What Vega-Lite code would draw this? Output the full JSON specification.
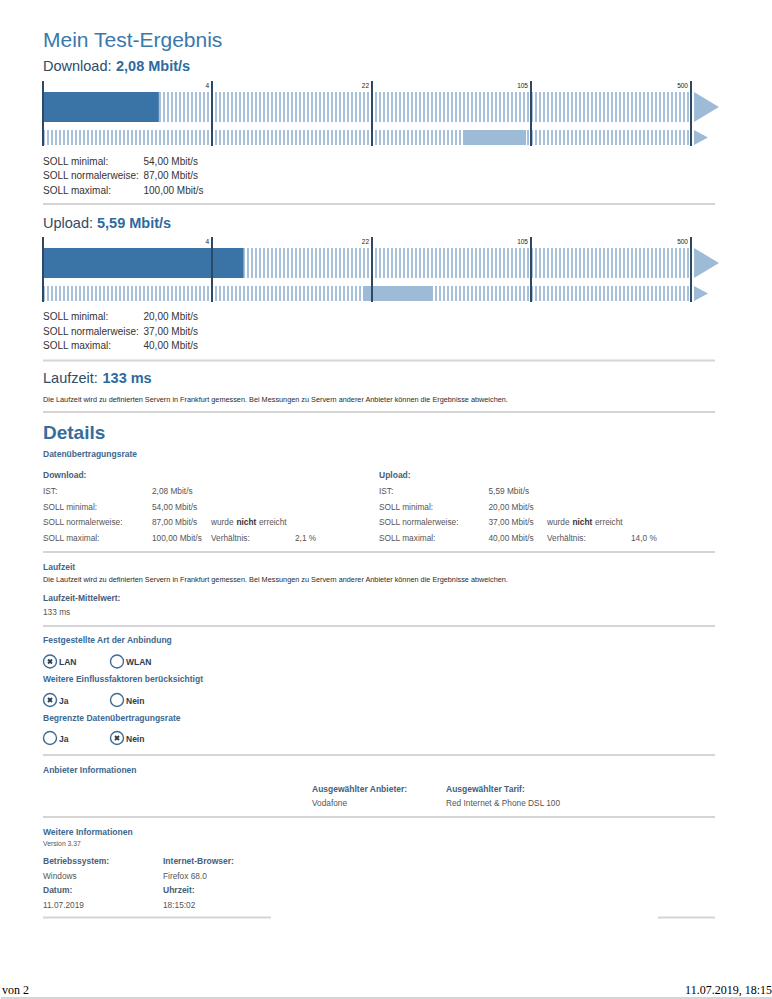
{
  "$schema": "https://vega.github.io/schema/vega-lite/v6.json",
  "width": 772,
  "height": 999,
  "autosize": {"type": "fit", "contains": "padding"},
  "padding": 0,
  "background": "#ffffff",
  "config": {
    "view": {"stroke": null},
    "font": "Liberation Sans",
    "text": {"font": "Liberation Sans"}
  },
  "datasets": {
    "texts": [
      {"t": "Mein Test-Ergebnis", "x": 42, "y": 47, "k": "title"},
      {"t": "Download:", "x": 42, "y": 71, "k": "h2"},
      {"t": "2,08 Mbit/s", "x": 115, "y": 71, "k": "h2b"},
      {"t": "SOLL minimal:", "x": 42, "y": 164.5, "k": "body"},
      {"t": "54,00 Mbit/s", "x": 142.5, "y": 164.5, "k": "body"},
      {"t": "SOLL normalerweise:", "x": 42, "y": 179, "k": "body"},
      {"t": "87,00 Mbit/s", "x": 142.5, "y": 179, "k": "body"},
      {"t": "SOLL maximal:", "x": 42, "y": 193.5, "k": "body"},
      {"t": "100,00 Mbit/s", "x": 142.5, "y": 193.5, "k": "body"},
      {"t": "Upload:", "x": 42, "y": 228, "k": "h2"},
      {"t": "5,59 Mbit/s", "x": 96, "y": 228, "k": "h2b"},
      {"t": "SOLL minimal:", "x": 42, "y": 320, "k": "body"},
      {"t": "20,00 Mbit/s", "x": 142.5, "y": 320, "k": "body"},
      {"t": "SOLL normalerweise:", "x": 42, "y": 334.5, "k": "body"},
      {"t": "37,00 Mbit/s", "x": 142.5, "y": 334.5, "k": "body"},
      {"t": "SOLL maximal:", "x": 42, "y": 349, "k": "body"},
      {"t": "40,00 Mbit/s", "x": 142.5, "y": 349, "k": "body"},
      {"t": "Laufzeit:", "x": 42, "y": 383, "k": "h2"},
      {"t": "133 ms", "x": 101.5, "y": 383, "k": "h2b"},
      {"t": "Die Laufzeit wird zu definierten Servern in Frankfurt gemessen. Bei Messungen zu Servern anderer Anbieter können die Ergebnisse abweichen.", "x": 42, "y": 401.5, "k": "tiny"},
      {"t": "Details", "x": 42, "y": 438.5, "k": "details"},
      {"t": "Datenübertragungsrate", "x": 42, "y": 457, "k": "sec"},
      {"t": "Download:", "x": 42, "y": 477.5, "k": "lbl"},
      {"t": "Upload:", "x": 378, "y": 477.5, "k": "lbl"},
      {"t": "IST:", "x": 42, "y": 494, "k": "det"},
      {"t": "2,08 Mbit/s", "x": 151, "y": 494, "k": "det"},
      {"t": "SOLL minimal:", "x": 42, "y": 509.5, "k": "det"},
      {"t": "54,00 Mbit/s", "x": 151, "y": 509.5, "k": "det"},
      {"t": "SOLL normalerweise:", "x": 42, "y": 525, "k": "det"},
      {"t": "87,00 Mbit/s", "x": 151, "y": 525, "k": "det"},
      {"t": "wurde", "x": 210, "y": 525, "k": "det"},
      {"t": "nicht", "x": 235.5, "y": 525, "k": "detb"},
      {"t": "erreicht", "x": 258, "y": 525, "k": "det"},
      {"t": "SOLL maximal:", "x": 42, "y": 540.5, "k": "det"},
      {"t": "100,00 Mbit/s", "x": 151, "y": 540.5, "k": "det"},
      {"t": "Verhältnis:", "x": 210, "y": 540.5, "k": "det"},
      {"t": "2,1 %", "x": 294, "y": 540.5, "k": "det"},
      {"t": "IST:", "x": 378, "y": 494, "k": "det"},
      {"t": "5,59 Mbit/s", "x": 487.5, "y": 494, "k": "det"},
      {"t": "SOLL minimal:", "x": 378, "y": 509.5, "k": "det"},
      {"t": "20,00 Mbit/s", "x": 487.5, "y": 509.5, "k": "det"},
      {"t": "SOLL normalerweise:", "x": 378, "y": 525, "k": "det"},
      {"t": "37,00 Mbit/s", "x": 487.5, "y": 525, "k": "det"},
      {"t": "wurde", "x": 546, "y": 525, "k": "det"},
      {"t": "nicht", "x": 571.5, "y": 525, "k": "detb"},
      {"t": "erreicht", "x": 594, "y": 525, "k": "det"},
      {"t": "SOLL maximal:", "x": 378, "y": 540.5, "k": "det"},
      {"t": "40,00 Mbit/s", "x": 487.5, "y": 540.5, "k": "det"},
      {"t": "Verhältnis:", "x": 546, "y": 540.5, "k": "det"},
      {"t": "14,0 %", "x": 630, "y": 540.5, "k": "det"},
      {"t": "Laufzeit", "x": 42, "y": 570, "k": "sec"},
      {"t": "Die Laufzeit wird zu definierten Servern in Frankfurt gemessen. Bei Messungen zu Servern anderer Anbieter können die Ergebnisse abweichen.", "x": 42, "y": 581.5, "k": "tiny"},
      {"t": "Laufzeit-Mittelwert:", "x": 42, "y": 601, "k": "lbl"},
      {"t": "133 ms", "x": 42, "y": 615, "k": "det"},
      {"t": "Festgestellte Art der Anbindung", "x": 42, "y": 643, "k": "sec"},
      {"t": "LAN", "x": 58, "y": 665, "k": "radio"},
      {"t": "WLAN", "x": 125, "y": 665, "k": "radio"},
      {"t": "Weitere Einflussfaktoren berücksichtigt", "x": 42, "y": 681.5, "k": "sec"},
      {"t": "Ja", "x": 58, "y": 703.5, "k": "radio"},
      {"t": "Nein", "x": 125, "y": 703.5, "k": "radio"},
      {"t": "Begrenzte Datenübertragungsrate", "x": 42, "y": 720.5, "k": "sec"},
      {"t": "Ja", "x": 58, "y": 741.5, "k": "radio"},
      {"t": "Nein", "x": 125, "y": 741.5, "k": "radio"},
      {"t": "Anbieter Informationen", "x": 42, "y": 772.5, "k": "sec"},
      {"t": "Ausgewählter Anbieter:", "x": 311, "y": 791.5, "k": "lbl"},
      {"t": "Ausgewählter Tarif:", "x": 445, "y": 791.5, "k": "lbl"},
      {"t": "Vodafone", "x": 311, "y": 805.5, "k": "det"},
      {"t": "Red Internet & Phone DSL 100", "x": 445, "y": 805.5, "k": "det"},
      {"t": "Weitere Informationen", "x": 42, "y": 834.5, "k": "sec"},
      {"t": "Version 3.37", "x": 42, "y": 846, "k": "ver"},
      {"t": "Betriebssystem:", "x": 42, "y": 863.5, "k": "lbl"},
      {"t": "Internet-Browser:", "x": 162, "y": 863.5, "k": "lbl"},
      {"t": "Windows", "x": 42, "y": 878.5, "k": "det"},
      {"t": "Firefox 68.0", "x": 162, "y": 878.5, "k": "det"},
      {"t": "Datum:", "x": 42, "y": 892.5, "k": "lbl"},
      {"t": "Uhrzeit:", "x": 162, "y": 892.5, "k": "lbl"},
      {"t": "11.07.2019", "x": 42, "y": 907.5, "k": "det"},
      {"t": "18:15:02", "x": 162, "y": 907.5, "k": "det"},
      {"t": "von 2", "x": 1, "y": 994, "k": "footL"},
      {"t": "11.07.2019, 18:15", "x": 771, "y": 994, "k": "footR"}
    ],
    "rules": [
      {"x": 42, "x2": 714, "y": 204},
      {"x": 42, "x2": 714, "y": 360.5},
      {"x": 42, "x2": 714, "y": 412},
      {"x": 42, "x2": 714, "y": 552},
      {"x": 42, "x2": 714, "y": 626},
      {"x": 42, "x2": 714, "y": 755},
      {"x": 42, "x2": 714, "y": 817},
      {"x": 42, "x2": 270, "y": 917.5},
      {"x": 657, "x2": 714, "y": 917.5},
      {"x": 0, "x2": 772, "y": 998}
    ],
    "radios": [
      {"x": 49, "y": 661.5, "checked": true},
      {"x": 116, "y": 661.5, "checked": false},
      {"x": 49, "y": 700, "checked": true},
      {"x": 116, "y": 700, "checked": false},
      {"x": 49, "y": 738, "checked": false},
      {"x": 116, "y": 738, "checked": true}
    ],
    "rates": [
      {"test": "Download", "top": 81, "lo": 0.5, "hi": 500, "ist": 2.08, "min": 54, "normal": 87, "max": 100},
      {"test": "Upload", "top": 237, "lo": 0.5, "hi": 500, "ist": 5.59, "min": 20, "normal": 37, "max": 40}
    ],
    "ticks": [
      {"test": "Download", "top": 81, "v": 0.5, "label": ""},
      {"test": "Download", "top": 81, "v": 4, "label": "4"},
      {"test": "Download", "top": 81, "v": 22, "label": "22"},
      {"test": "Download", "top": 81, "v": 105, "label": "105"},
      {"test": "Download", "top": 81, "v": 500, "label": "500"},
      {"test": "Upload", "top": 237, "v": 0.5, "label": ""},
      {"test": "Upload", "top": 237, "v": 4, "label": "4"},
      {"test": "Upload", "top": 237, "v": 22, "label": "22"},
      {"test": "Upload", "top": 237, "v": 105, "label": "105"},
      {"test": "Upload", "top": 237, "v": 500, "label": "500"}
    ]
  },
  "resolve": {"scale": {"x": "independent"}, "axis": {"x": "independent"}},
  "layer": [
    {
      "encoding": {
        "x": {"field": "x", "type": "quantitative", "axis": null, "scale": {"domain": [0, 772], "range": [0, 772], "nice": false, "zero": false}},
        "y": {"field": "y", "type": "quantitative", "axis": null, "scale": {"domain": [0, 999], "range": [0, 999], "nice": false, "zero": false}}
      },
      "layer": [
        {
          "data": {"name": "rules"},
          "mark": {"type": "rule", "color": "#d5d5d5", "strokeWidth": 2},
          "encoding": {"x2": {"field": "x2"}}
        },
        {
          "data": {"name": "radios"},
          "mark": {"type": "point", "shape": "circle", "size": 169, "filled": true, "fill": "#ffffff", "stroke": "#3f6b93", "strokeWidth": 1.4, "opacity": 1}
        },
        {
          "data": {"name": "radios"},
          "transform": [{"filter": "datum.checked"}],
          "mark": {"type": "point", "shape": "M-1,-1L1,1M1,-1L-1,1", "size": 16, "filled": false, "stroke": "#2c3e50", "strokeWidth": 1.9, "opacity": 1}
        },
        {
          "data": {"name": "texts"},
          "encoding": {"text": {"field": "t", "type": "nominal"}},
          "layer": [
            {"transform": [{"filter": "datum.k === 'title'"}], "mark": {"type": "text", "align": "left", "baseline": "alphabetic", "fontSize": 21, "color": "#3a78ab"}},
            {"transform": [{"filter": "datum.k === 'h2'"}], "mark": {"type": "text", "align": "left", "baseline": "alphabetic", "fontSize": 14.5, "color": "#2f4b66"}},
            {"transform": [{"filter": "datum.k === 'h2b'"}], "mark": {"type": "text", "align": "left", "baseline": "alphabetic", "fontSize": 14.5, "fontWeight": "bold", "color": "#2e6a9c"}},
            {"transform": [{"filter": "datum.k === 'body'"}], "mark": {"type": "text", "align": "left", "baseline": "alphabetic", "fontSize": 10, "color": "#333333"}},
            {"transform": [{"filter": "datum.k === 'tiny'"}], "mark": {"type": "text", "align": "left", "baseline": "alphabetic", "fontSize": 7.3, "color": "#2b2b2b"}},
            {"transform": [{"filter": "datum.k === 'details'"}], "mark": {"type": "text", "align": "left", "baseline": "alphabetic", "fontSize": 19, "fontWeight": "bold", "color": "#376d9b"}},
            {"transform": [{"filter": "datum.k === 'sec'"}], "mark": {"type": "text", "align": "left", "baseline": "alphabetic", "fontSize": 8.5, "fontWeight": "bold", "color": "#3c6890"}},
            {"transform": [{"filter": "datum.k === 'lbl'"}], "mark": {"type": "text", "align": "left", "baseline": "alphabetic", "fontSize": 8.5, "fontWeight": "bold", "color": "#45607a"}},
            {"transform": [{"filter": "datum.k === 'det'"}], "mark": {"type": "text", "align": "left", "baseline": "alphabetic", "fontSize": 8.3, "color": "#555555"}},
            {"transform": [{"filter": "datum.k === 'detb'"}], "mark": {"type": "text", "align": "left", "baseline": "alphabetic", "fontSize": 8.3, "fontWeight": "bold", "color": "#333333"}},
            {"transform": [{"filter": "datum.k === 'radio'"}], "mark": {"type": "text", "align": "left", "baseline": "alphabetic", "fontSize": 8.5, "fontWeight": "bold", "color": "#2d3d4e"}},
            {"transform": [{"filter": "datum.k === 'ver'"}], "mark": {"type": "text", "align": "left", "baseline": "alphabetic", "fontSize": 6.8, "color": "#555555"}},
            {"transform": [{"filter": "datum.k === 'footL'"}], "mark": {"type": "text", "align": "left", "baseline": "alphabetic", "fontSize": 12, "font": "Liberation Serif", "color": "#000000"}},
            {"transform": [{"filter": "datum.k === 'footR'"}], "mark": {"type": "text", "align": "right", "baseline": "alphabetic", "fontSize": 12, "font": "Liberation Serif", "color": "#000000"}}
          ]
        }
      ]
    },
    {
      "layer": [
        {
          "data": {"name": "rates"},
          "mark": {"type": "rule", "strokeWidth": 30, "strokeDash": [2, 2], "color": "#a6c1d9", "yOffset": 26},
          "encoding": {
            "x": {"field": "lo", "type": "quantitative", "axis": null, "scale": {"type": "log", "domain": [0.5, 4, 22, 105, 500], "range": [42, 211, 371, 530, 690], "nice": false}},
            "x2": {"field": "hi"},
            "y": {"field": "top", "type": "quantitative", "axis": null}
          }
        },
        {
          "data": {"name": "rates"},
          "mark": {"type": "rule", "strokeWidth": 15, "strokeDash": [2, 2], "color": "#a6c1d9", "yOffset": 56.5},
          "encoding": {
            "x": {"field": "lo", "type": "quantitative", "axis": null},
            "x2": {"field": "hi"},
            "y": {"field": "top", "type": "quantitative", "axis": null}
          }
        },
        {
          "data": {"name": "rates"},
          "mark": {"type": "rect", "color": "#3a73a5", "yOffset": 11, "y2Offset": 41},
          "encoding": {
            "x": {"field": "lo", "type": "quantitative", "axis": null},
            "x2": {"field": "ist"},
            "y": {"field": "top", "type": "quantitative", "axis": null},
            "y2": {"field": "top"}
          }
        },
        {
          "data": {"name": "rates"},
          "mark": {"type": "rect", "color": "#9dbad6", "yOffset": 49, "y2Offset": 64},
          "encoding": {
            "x": {"field": "min", "type": "quantitative", "axis": null},
            "x2": {"field": "max"},
            "y": {"field": "top", "type": "quantitative", "axis": null},
            "y2": {"field": "top"}
          }
        },
        {
          "data": {"name": "ticks"},
          "mark": {"type": "rule", "color": "#2d4964", "strokeWidth": 2, "y2Offset": 65},
          "encoding": {
            "x": {"field": "v", "type": "quantitative", "axis": null},
            "y": {"field": "top", "type": "quantitative", "axis": null},
            "y2": {"field": "top"}
          }
        },
        {
          "data": {"name": "ticks"},
          "mark": {"type": "text", "align": "right", "baseline": "alphabetic", "fontSize": 6.5, "color": "#222222", "dx": -3, "yOffset": 6.5},
          "encoding": {
            "x": {"field": "v", "type": "quantitative", "axis": null},
            "y": {"field": "top", "type": "quantitative", "axis": null},
            "text": {"field": "label", "type": "nominal"}
          }
        },
        {
          "data": {"name": "rates"},
          "mark": {"type": "point", "shape": "M-0.83,-1L0.83,0L-0.83,1Z", "size": 900, "filled": true, "color": "#9dbad6", "opacity": 1, "strokeWidth": 0, "xOffset": 15.5, "yOffset": 26},
          "encoding": {
            "x": {"field": "hi", "type": "quantitative", "axis": null},
            "y": {"field": "top", "type": "quantitative", "axis": null}
          }
        },
        {
          "data": {"name": "rates"},
          "mark": {"type": "point", "shape": "M-0.93,-1L0.93,0L-0.93,1Z", "size": 225, "filled": true, "color": "#9dbad6", "opacity": 1, "strokeWidth": 0, "xOffset": 10, "yOffset": 56.5},
          "encoding": {
            "x": {"field": "hi", "type": "quantitative", "axis": null},
            "y": {"field": "top", "type": "quantitative", "axis": null}
          }
        }
      ]
    }
  ]
}
